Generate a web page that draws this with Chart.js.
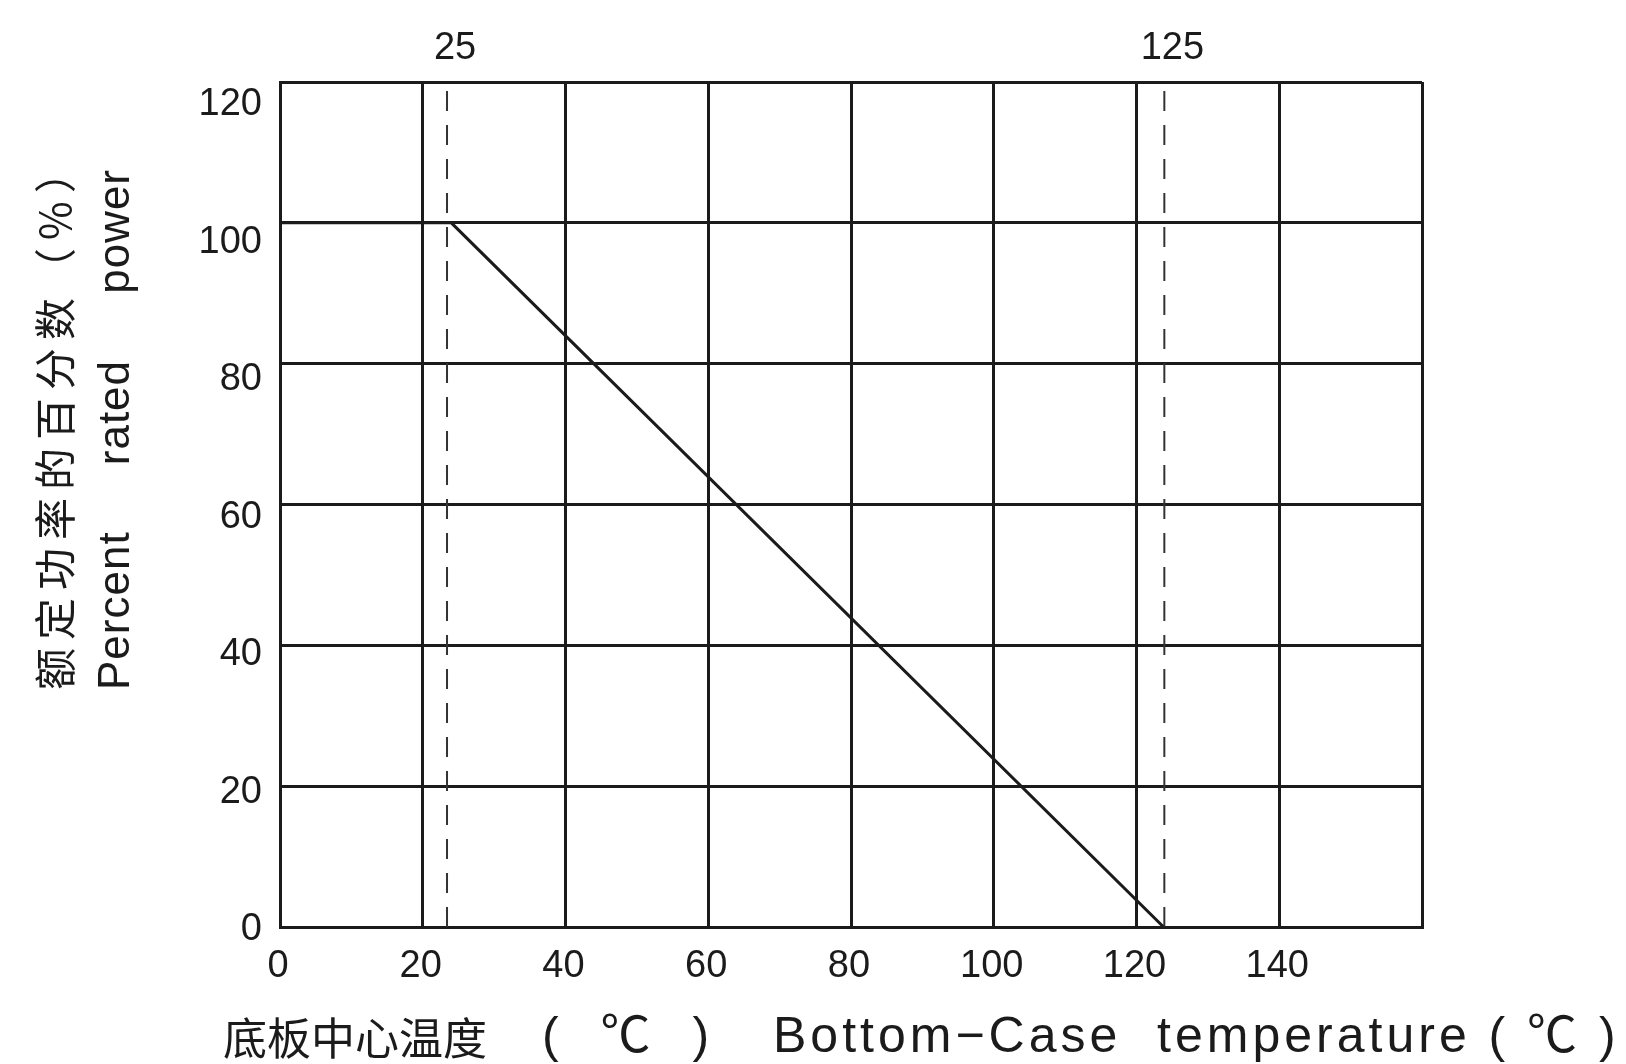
<!DOCTYPE html>
<html>
<head>
<meta charset="utf-8">
<title>Power derating curve</title>
<script src="https://cdn.jsdelivr.net/npm/chart.js@4.4.1/dist/chart.umd.min.js"></script>
<style>
  html, body { margin: 0; padding: 0; background: #fff; }
  canvas { display: block; }
</style>
</head>
<body>
<canvas id="derating" width="1626" height="1064"></canvas>
<script>
/* Values */
const tempRange = [0, 160];
const tempStep = 20;
const powerRange = [0, 120];
const powerTicks = [0, 20, 40, 60, 80, 100, 120];
const curveTemp = [0, 24, 123.8];
const curvePower = [100, 100, 0];
const markerTemp = [23.4, 123.9];
const markerLabels = ['25', '125'];

const INK = '#1b1b1b';
const TICK_FONT = { family: '"Liberation Sans", Arial, sans-serif', size: 38 };
/* the scan prints the y labels on a slightly tighter pitch than the grid */
const labelSpan = [-0.3, 122.56];

function points(xs, ys) {
  return xs.map(function (x, i) { return { x: x, y: ys[i] }; });
}

/* dashed reference lines at the two marked temperatures */
const markerSets = markerTemp.map(function (t) {
  return {
    data: points([t, t], powerRange),
    xAxisID: 'x',
    yAxisID: 'y',
    borderColor: '#333',
    borderWidth: 2,
    borderDash: [20, 14],
    pointRadius: 0,
    fill: false
  };
});

/* axis titles, drawn with letter spacing like the scan */
const axisTitles = {
  id: 'axisTitles',
  afterDraw: function (chart) {
    const ctx = chart.ctx;
    const area = chart.chartArea;
    ctx.save();
    ctx.fillStyle = INK;
    ctx.textBaseline = 'middle';
    ctx.textAlign = 'left';

    const ty = chart.height - 26;
    ctx.font = '44px "Noto Sans CJK SC"';
    ctx.letterSpacing = '0px';
    ctx.fillText('底板中心温度', area.left - 57, ty);
    ctx.font = '50px "Liberation Sans", "Noto Sans CJK SC"';
    ctx.letterSpacing = '14px';
    ctx.fillText('( ℃ )', area.left + 262, ty);
    ctx.letterSpacing = '4px';
    ctx.fillText('Bottom−Case  temperature ( ℃ )', area.left + 493, ty);

    ctx.translate(0, area.bottom - 237);
    ctx.rotate(-Math.PI / 2);
    ctx.font = '42px "Noto Sans CJK SC"';
    ctx.letterSpacing = '8px';
    ctx.fillText('额定功率的百分数（%）', 0, 55);
    ctx.font = '44px "Liberation Sans", sans-serif';
    ctx.letterSpacing = '1px';
    ctx.fillText('Percent     rated     power', 0, 117);
    ctx.restore();
  }
};

new Chart(document.getElementById('derating'), {
  type: 'line',
  data: {
    datasets: [{
      data: points(curveTemp, curvePower),
      xAxisID: 'x',
      yAxisID: 'y',
      borderColor: INK,
      borderWidth: 3,
      pointRadius: 0,
      tension: 0,
      fill: false
    }].concat(markerSets)
  },
  options: {
    responsive: false,
    animation: false,
    layout: { padding: { left: 0, right: 204, top: 0, bottom: 0 } },
    plugins: { legend: { display: false }, tooltip: { enabled: false } },
    scales: {
      x: {
        type: 'linear',
        min: tempRange[0],
        max: tempRange[1],
        afterFit: function (s) { s.height = 137; },
        ticks: {
          stepSize: tempStep,
          padding: 17,
          labelOffset: -2,
          color: INK,
          font: TICK_FONT,
          callback: function (v) { return v === tempRange[1] ? '' : v; }
        },
        grid: { color: INK, lineWidth: 3, drawTicks: false },
        border: { color: INK, width: 3 }
      },
      x2: {
        type: 'linear',
        position: 'top',
        min: tempRange[0],
        max: tempRange[1],
        afterFit: function (s) { s.height = 82; },
        afterBuildTicks: function (s) {
          s.ticks = markerTemp.map(function (v) { return { value: v }; });
        },
        ticks: {
          autoSkip: false,
          padding: 11,
          labelOffset: 8,
          color: INK,
          font: TICK_FONT,
          callback: function (v, i) { return markerLabels[i]; }
        },
        grid: { display: false, drawTicks: false },
        border: { display: false }
      },
      y: {
        position: 'left',
        weight: 0,
        min: powerRange[0],
        max: powerRange[1],
        afterFit: function (s) { s.width = 0; },
        afterBuildTicks: function (s) {
          s.ticks = powerTicks.map(function (v) { return { value: v }; });
        },
        ticks: { display: false },
        grid: { color: INK, lineWidth: 3, drawTicks: false },
        border: { color: INK, width: 3 }
      },
      yLabels: {
        position: 'left',
        weight: 1,
        min: labelSpan[0],
        max: labelSpan[1],
        afterFit: function (s) { s.width = 280; },
        afterBuildTicks: function (s) {
          s.ticks = powerTicks.map(function (v) { return { value: v }; });
        },
        ticks: {
          autoSkip: false,
          padding: 18,
          labelOffset: 5,
          color: INK,
          font: TICK_FONT
        },
        grid: { display: false, drawTicks: false },
        border: { display: false }
      }
    }
  },
  plugins: [axisTitles]
});
</script>
</body>
</html>
